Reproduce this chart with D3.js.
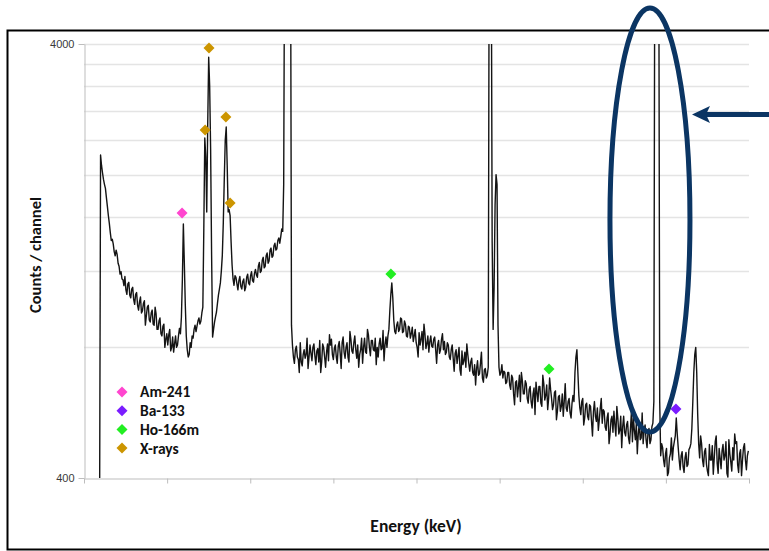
<!DOCTYPE html>
<html>
<head>
<meta charset="utf-8">
<script src="https://cdn.jsdelivr.net/npm/d3@7"></script>
<style>
  html, body { margin: 0; padding: 0; background: #fff; }
  svg { display: block; }
</style>
</head>
<body>
<svg id="chart" width="769" height="551"></svg>
<script>
// Gamma spectrum: counts per channel; channel = channelStart + i * channelStep
const channelStart = 48;
const channelStep = 3;
const counts = [
  330, 2220, 2100, 2020, 1950, 1900, 1860, 1770, 1690, 1610, 1545, 1470, 1410, 1420, 1385, 1330, 1300, 1340, 1310, 1250,
  1230, 1180, 1195, 1150, 1145, 1110, 1165, 1085, 1060, 1120, 1130, 1055, 1040, 1090, 1100, 1030, 1005, 1060, 1070, 1000,
  975, 1020, 1045, 960, 970, 1010, 1025, 900, 945, 990, 1000, 925, 915, 960, 975, 905, 900, 990, 955, 880,
  880, 920, 935, 860, 850, 895, 905, 800, 835, 860, 810, 855, 880, 785, 800, 845, 780, 815, 850, 800,
  810, 850, 885, 860, 940, 1150, 1540, 1250, 1000, 850, 790, 760, 770, 820, 800, 850, 840, 880, 900, 870,
  895, 920, 935, 905, 920, 960, 990, 1500, 2430, 2200, 1640, 2600, 3730, 3200, 2280, 1300, 845, 880, 915, 940,
  965, 1010, 1055, 1090, 1126, 1200, 1305, 1550, 1950, 2400, 2575, 2100, 1640, 1660, 1610, 1400, 1240, 1150, 1112, 1170,
  1160, 1120, 1085, 1140, 1165, 1105, 1090, 1135, 1150, 1080, 1100, 1160, 1180, 1125, 1115, 1170, 1195, 1140, 1130, 1185,
  1210, 1175, 1160, 1230, 1255, 1190, 1200, 1270, 1290, 1220, 1230, 1300, 1320, 1250, 1265, 1340, 1355, 1290, 1300, 1370,
  1390, 1340, 1350, 1410, 1430, 1390, 1440, 1500, 1480, 1900, 8000, 20000, 20000, 20000, 20000, 20000, 8000, 900, 809, 760,
  735, 790, 805, 760, 750, 700, 820, 740, 725, 770, 790, 755, 770, 840, 715, 760, 810, 775, 745, 800,
  815, 765, 730, 785, 795, 740, 830, 700, 740, 815, 800, 760, 720, 780, 815, 745, 855, 810, 835, 770,
  750, 795, 810, 760, 735, 805, 825, 775, 715, 820, 845, 780, 755, 800, 820, 760, 740, 870, 835, 785,
  775, 820, 850, 790, 755, 810, 720, 770, 790, 840, 735, 800, 840, 780, 775, 880, 855, 800, 765, 830,
  830, 790, 785, 840, 730, 800, 760, 815, 840, 790, 795, 875, 745, 810, 845, 800, 850, 880, 975, 1060,
  1126, 1040, 925, 870, 860, 900, 915, 870, 880, 935, 930, 865, 870, 920, 905, 850, 845, 895, 890, 840,
  860, 890, 825, 850, 880, 820, 800, 760, 865, 810, 835, 870, 790, 905, 860, 795, 815, 850, 780, 825,
  850, 805, 800, 835, 845, 790, 735, 810, 830, 775, 790, 835, 860, 790, 825, 770, 780, 820, 810, 760,
  750, 790, 810, 755, 705, 775, 790, 735, 765, 800, 710, 690, 785, 730, 745, 780, 720, 815, 770, 735,
  705, 740, 755, 700, 690, 730, 655, 715, 745, 690, 695, 735, 780, 680, 665, 710, 715, 680, 690, 720,
  8000, 20000, 8000, 1400, 880, 1100, 1700, 2000, 1900, 900, 720, 690, 700, 730, 680, 705, 700, 660, 665, 700,
  700, 655, 640, 690, 680, 625, 590, 665, 670, 615, 650, 690, 600, 700, 670, 625, 625, 670, 660, 610,
  595, 640, 650, 600, 580, 625, 645, 560, 665, 630, 600, 650, 650, 595, 585, 690, 660, 605, 620, 655,
  575, 610, 680, 640, 610, 575, 590, 630, 635, 545, 570, 615, 620, 570, 585, 625, 555, 600, 660, 580,
  570, 600, 610, 565, 550, 595, 620, 600, 700, 760, 790, 700, 620, 580, 560, 600, 610, 530, 550, 590,
  595, 555, 545, 590, 585, 540, 500, 570, 600, 555, 540, 580, 515, 545, 580, 610, 535, 575, 570, 525,
  515, 550, 565, 480, 505, 545, 555, 510, 570, 530, 500, 585, 550, 505, 515, 555, 470, 525, 555, 510,
  500, 530, 540, 495, 480, 520, 570, 485, 550, 515, 490, 535, 455, 505, 535, 490, 495, 565, 480, 515,
  530, 490, 470, 510, 520, 480, 490, 525, 535, 600, 8000, 20000, 20000, 20000, 8000, 600, 450, 480, 470, 440,
  425, 455, 468, 405, 412, 445, 455, 495, 440, 470, 485, 500, 550, 505, 470, 440, 418, 450, 460, 425,
  412, 445, 458, 425, 430, 465, 470, 480, 520, 600, 700, 770, 800, 700, 560, 480, 445, 500, 480, 440,
  425, 460, 468, 430, 415, 405, 478, 440, 440, 475, 408, 445, 485, 500, 432, 410, 468, 445, 420, 462,
  478, 440, 450, 485, 410, 402, 490, 455, 435, 415, 470, 440, 505, 480, 485, 430, 412, 455, 465, 405,
  440, 470, 480, 440, 418, 450, 462
];

// Identified lines, as [channel, counts] of each marker
const am241Marks  = [[302, 1632]];
const ba133Marks  = [[1823, 577]];
const ho166mMarks = [[945, 1180], [1432, 713]];
const xrayMarks   = [[385, 3916], [373, 2536], [437, 2716], [450, 1720]];

const seriesNames  = ["Am-241", "Ba-133", "Ho-166m", "X-rays"];
const seriesColors = ["#ff45cf", "#7a1cff", "#22ee22", "#cc9500"];
const seriesMarks  = [am241Marks, ba133Marks, ho166mMarks, xrayMarks];

const yTickValues = [400, 4000];
const yGridValues = [800, 1200, 1600, 2000, 2400, 2800, 3200, 3600, 4000];
const xTickValues = [0, 256, 512, 768, 1024, 1280, 1536, 1792, 2048];
const highlightChannel = 1743;

const labelFont = "Carlito, Lato, 'Open Sans', sans-serif";

const svg = d3.select("#chart");

const x = d3.scaleLinear().domain([0, 2048]).range([84, 749]);
const y = d3.scaleLog().domain([400, 4000]).range([478, 44]);

// outer frame
svg.append("rect")
  .attr("x", 7.5).attr("y", 30.5)
  .attr("width", 775).attr("height", 519)
  .attr("fill", "none").attr("stroke", "#000").attr("stroke-width", 2);

// horizontal gridlines
svg.append("g").selectAll("line").data(yGridValues).join("line")
  .attr("x1", x(0)).attr("x2", x(2048))
  .attr("y1", d => Math.round(y(d)) + 0.5).attr("y2", d => Math.round(y(d)) + 0.5)
  .attr("stroke", "#e4e4e4").attr("stroke-width", 1.5);

// axes
const yAxis = svg.append("g").attr("transform", "translate(84.5,0)")
  .call(d3.axisLeft(y).tickValues(yTickValues).tickFormat(d3.format("d")).tickSize(6).tickSizeOuter(0));
const xAxis = svg.append("g").attr("transform", "translate(0,478.5)")
  .call(d3.axisBottom(x).tickValues(xTickValues).tickFormat("").tickSize(5).tickSizeOuter(0));
[yAxis, xAxis].forEach(a => {
  a.select(".domain").attr("stroke", "#bdbdbd");
  a.selectAll(".tick line").attr("stroke", "#bdbdbd");
});
yAxis.selectAll(".tick text")
  .attr("font-family", "'Liberation Sans', Arial, sans-serif")
  .attr("font-size", 11).attr("fill", "#3a3a3a").attr("x", -10);

// spectrum trace
svg.append("clipPath").attr("id", "plotClip")
  .append("rect").attr("x", 84).attr("y", 44).attr("width", 666).attr("height", 434);

const line = d3.line()
  .x((d, i) => x(channelStart + i * channelStep))
  .y(d => y(d));

svg.append("path")
  .datum(counts)
  .attr("clip-path", "url(#plotClip)")
  .attr("d", line)
  .attr("fill", "none")
  .attr("stroke", "#141414")
  .attr("stroke-width", 1.4)
  .attr("stroke-linejoin", "round");

// diamond marker path centred on origin
const diamond = r => `M0,${-r}L${r},0L0,${r}L${-r},0Z`;

seriesMarks.forEach((marks, k) => {
  svg.append("g").selectAll("path").data(marks).join("path")
    .attr("transform", d => `translate(${x(d[0])},${y(d[1])})`)
    .attr("d", diamond(5.5))
    .attr("fill", seriesColors[k]);
});

// legend
const legend = svg.append("g");
seriesNames.forEach((name, k) => {
  const ly = 392 + k * 18.7;
  legend.append("path")
    .attr("transform", `translate(122,${ly})`)
    .attr("d", diamond(5.5))
    .attr("fill", seriesColors[k]);
  legend.append("text")
    .attr("x", 140).attr("y", ly).attr("dy", "0.35em")
    .attr("font-family", labelFont).attr("font-weight", 700)
    .attr("font-size", 15.5).attr("fill", "#111")
    .text(name);
});

// axis titles
svg.append("text")
  .attr("transform", "translate(41,255) rotate(-90)")
  .attr("text-anchor", "middle")
  .attr("font-family", labelFont).attr("font-weight", 700)
  .attr("font-size", 16.5).attr("fill", "#111")
  .text("Counts / channel");

svg.append("text")
  .attr("x", 416).attr("y", 532)
  .attr("text-anchor", "middle")
  .attr("font-family", labelFont).attr("font-weight", 700)
  .attr("font-size", 17.5).attr("fill", "#111")
  .text("Energy (keV)");

// highlight ellipse and pointer arrow
const navy = "#0b3563";
svg.append("ellipse")
  .attr("cx", x(highlightChannel)).attr("cy", 220)
  .attr("rx", 40).attr("ry", 212)
  .attr("fill", "none").attr("stroke", navy).attr("stroke-width", 5);

svg.append("line")
  .attr("x1", 772).attr("x2", 704)
  .attr("y1", 114.5).attr("y2", 114.5)
  .attr("stroke", navy).attr("stroke-width", 5);
svg.append("path")
  .attr("d", "M692,114.5L710,106L706,114.5L710,123Z")
  .attr("fill", navy);
</script>
</body>
</html>
